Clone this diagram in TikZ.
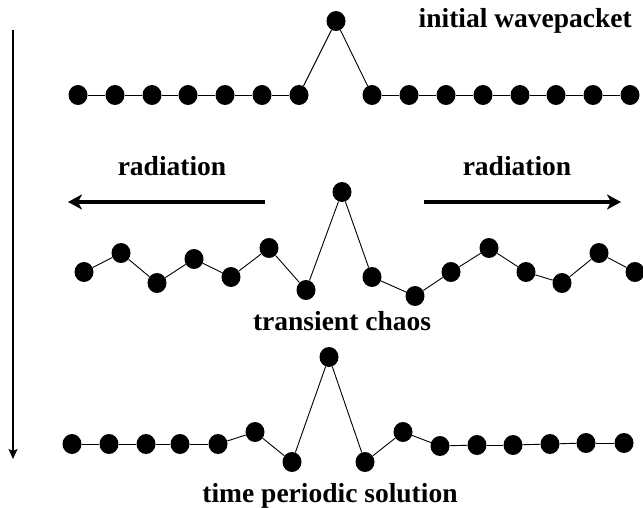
\documentclass[tikz,border=0pt]{standalone}
\usepackage{fontspec}
\setmainfont{Liberation Serif}
\usetikzlibrary{arrows.meta,shapes.geometric}

\begin{document}
\begin{tikzpicture}[x=1pt,y=-1pt,dot/.style={ellipse,fill,inner sep=0,minimum width=19pt,minimum height=20pt},link/.style={line width=0.9pt},lbl/.style={font=\fontsize{27.5}{30}\selectfont\bfseries,inner sep=0,anchor=base},arr/.style={-{Stealth[length=14pt,width=15pt,inset=4pt]},line width=3.5pt},timearr/.style={-{Stealth[length=10pt,width=9pt,inset=2pt]},line width=1.3pt}]
\useasboundingbox (0,0) rectangle (643,508);
% initial wavepacket
\foreach \x/\y [count=\i] in {78/95,115/95,152/95,188/95,225/95,262/95,299/95,336/21,372/95,409/95,446/95,483/95,520/95,556/95,593/95,630/95}
  \node[dot] (a\i) at (\x,\y) {};
\foreach \i in {1,...,15}{\pgfmathtruncatemacro\j{\i+1}\draw[link] (a\i)--(a\j);}
\node[lbl,anchor=base east] (init) at (632,28) {initial wavepacket};
% transient chaos
\foreach \x/\y [count=\i] in {84/272,121/253,157/283,194/259,231/277,269/248,306/290,342/192,372/277,415/296,451/272,489/248,526/272,562/283,599/253,635/272}
  \node[dot] (b\i) at (\x,\y) {};
\foreach \i in {1,...,15}{\pgfmathtruncatemacro\j{\i+1}\draw[link] (b\i)--(b\j);}
\node[lbl] (radl) at (172,176) {radiation};
\node[lbl] (radr) at (517,176) {radiation};
\coordinate (radlstart) at (265,202);
\coordinate (radlend) at (68,202);
\coordinate (radrstart) at (424,202);
\coordinate (radrend) at (621,202);
\draw[arr] (radlstart)--(radlend);
\draw[arr] (radrstart)--(radrend);
\node[lbl] (chaos) at (342,330) {transient chaos};
% time periodic solution
\foreach \x/\y [count=\i] in {72/444,109/444,146/444,180/444,218/444,255/432,292/462,329/357,365/462,403/432,440/446,477/445,513/445,550/444,586/443,624/443}
  \node[dot] (c\i) at (\x,\y) {};
\foreach \i in {1,...,15}{\pgfmathtruncatemacro\j{\i+1}\draw[link] (c\i)--(c\j);}
\node[lbl] (periodic) at (330,502) {time periodic solution};
% time axis
\coordinate (ttop) at (13,30);
\coordinate (tbot) at (13,459);
\draw[timearr] (ttop)--(tbot);
\end{tikzpicture}
\end{document}
